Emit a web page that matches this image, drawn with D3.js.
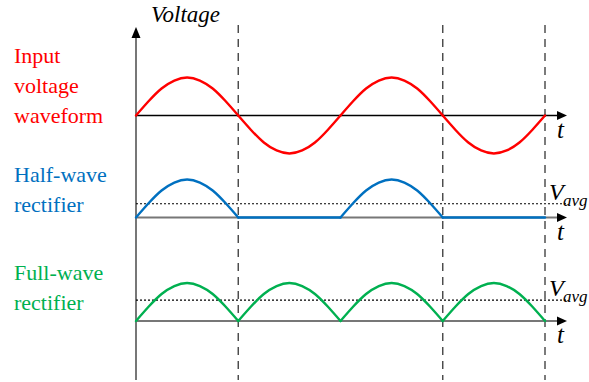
<!DOCTYPE html>
<html>
<head>
<meta charset="utf-8">
<script src="https://cdn.jsdelivr.net/npm/d3@7"></script>
<style>
  body { margin: 0; }
  svg text { font-family: "Liberation Serif", "Times New Roman", serif; }
</style>
</head>
<body>
<svg id="chart" width="589" height="382"></svg>
<script>
// ---- Data ----
// shape of one half-cycle, sampled at 9 evenly spaced phase points (relative amplitude)
const halfCyclePhase = [0, 0.125, 0.25, 0.375, 0.5, 0.625, 0.75, 0.875, 1];
const halfCycleShape = [0, 0.38, 0.71, 0.92, 1, 0.92, 0.71, 0.38, 0];
// polarity of each of the four half-cycles shown
const inputSigns = [1, -1, 1, -1];
const halfWaveSigns = [1, 0, 1, 0];
const fullWaveSigns = [1, 1, 1, 1];
// average levels (relative to peak)
const halfWaveAvg = 0.36;
const fullWaveAvg = 0.55;
// half-cycle boundaries (dashed guides)
const guideMarks = [1, 3, 4];
const rowLabels = [["Input", "voltage", "waveform"], ["Half-wave", "rectifier"], ["Full-wave", "rectifier"]];

// ---- Layout ----
const svg = d3.select("#chart");
const x = d3.scaleLinear().domain([0, 4]).range([136, 545]);
const axisEnd = 567;
const panels = [
  { base: 115.5, signs: inputSigns, color: "#ff0000", axisColor: "#000", axisW: 1.3, avg: null, labelY: 63, labels: rowLabels[0] },
  { base: 217.5, signs: halfWaveSigns, color: "#0070c0", axisColor: "#777", axisW: 2, avg: halfWaveAvg, labelY: 182, labels: rowLabels[1] },
  { base: 321, signs: fullWaveSigns, color: "#00b050", axisColor: "#777", axisW: 2, avg: fullWaveAvg, labelY: 280, labels: rowLabels[2] }
];
panels.forEach(p => { p.y = d3.scaleLinear().domain([-1, 1]).range([p.base + 38, p.base - 38]); });

// dashed guides
svg.selectAll("line.guide").data(guideMarks).join("line")
  .attr("class", "guide")
  .attr("x1", d => x(d)).attr("x2", d => x(d))
  .attr("y1", 25).attr("y2", 380)
  .attr("stroke", "#444").attr("stroke-width", 1.4)
  .attr("stroke-dasharray", "8,6");

// vertical axis
svg.append("line").attr("x1", 136).attr("x2", 136).attr("y1", 36).attr("y2", 380)
  .attr("stroke", "#777").attr("stroke-width", 2);
svg.append("path").attr("d", "M136,27 L131.5,38 L140.5,38 Z").attr("fill", "#000");

const line = d3.line().x(d => d[0]).y(d => d[1]).curve(d3.curveNatural);

panels.forEach(p => {
  if (p.avg !== null) {
    svg.append("line").attr("x1", 136).attr("x2", 568)
      .attr("y1", p.y(p.avg)).attr("y2", p.y(p.avg))
      .attr("stroke", "#000").attr("stroke-width", 1.1).attr("stroke-dasharray", "2,2");
  }
  svg.append("line").attr("x1", 136).attr("x2", axisEnd - 6)
    .attr("y1", p.base).attr("y2", p.base)
    .attr("stroke", p.axisColor).attr("stroke-width", p.axisW);
  svg.append("path")
    .attr("d", `M${axisEnd},${p.base} L${axisEnd - 10},${p.base - 4.5} L${axisEnd - 10},${p.base + 4.5} Z`)
    .attr("fill", "#000");
  p.signs.forEach((s, i) => {
    const pts = halfCyclePhase.map((ph, k) => [x(i + ph), p.y(s * halfCycleShape[k])]);
    svg.append("path").attr("d", line(pts))
      .attr("fill", "none").attr("stroke", p.color)
      .attr("stroke-width", 2.4).attr("stroke-linecap", "round").attr("stroke-linejoin", "round");
  });
});

// ---- Texts ----
svg.append("text").attr("x", 151).attr("y", 22).attr("font-size", 23)
  .style("font-style", "italic").attr("fill", "#000").text("Voltage");

panels.forEach(p => {
  if (p.avg !== null) {
    const yv = p.y(p.avg);
    svg.append("text").attr("x", 549).attr("y", yv - 4).attr("font-size", 24)
      .style("font-style", "italic").attr("fill", "#000").text("V");
    svg.append("text").attr("x", 563).attr("y", yv + 2).attr("font-size", 17)
      .style("font-style", "italic").attr("fill", "#000").text("avg");
  }
  svg.append("text").attr("x", 557).attr("y", p.base + 22).attr("font-size", 25)
    .style("font-style", "italic").attr("fill", "#000").text("t");
  p.labels.forEach((s, k) => {
    svg.append("text").attr("x", 14).attr("y", p.labelY + 30 * k).attr("font-size", 22)
      .attr("fill", p.color).text(s);
  });
});
</script>
</body>
</html>
